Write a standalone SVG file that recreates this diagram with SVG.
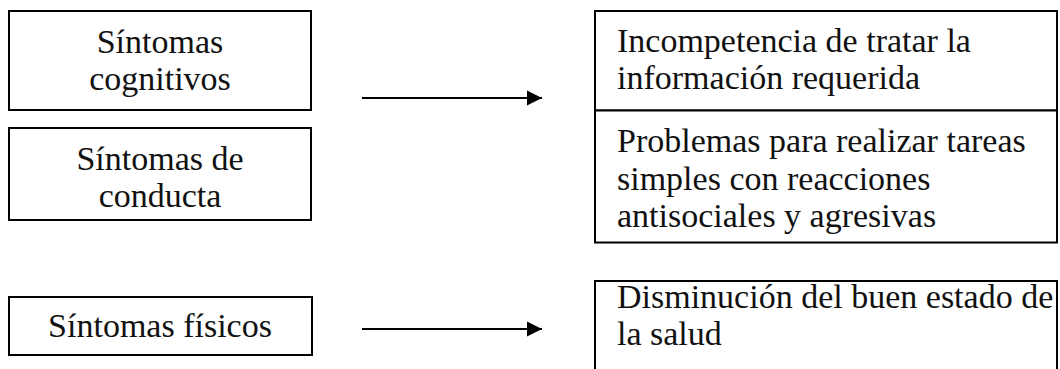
<svg xmlns="http://www.w3.org/2000/svg" width="1060" height="369" viewBox="0 0 1060 369">
<style>
.box{fill:#fff;stroke:#000;stroke-width:2}
.t{font-family:"Liberation Serif","Times New Roman",serif;font-size:34px;fill:#111}
.m{text-anchor:middle}
.c{stroke:#000;stroke-width:2;fill:none}
</style>
<defs>
<marker id="ah" markerWidth="16" markerHeight="16" refX="15" refY="7.5" orient="auto" markerUnits="userSpaceOnUse" viewBox="0 0 16 15">
<path d="M0,0 L15,7.5 L0,15 z" fill="#000"/>
</marker>
</defs>
<g id="n1"><rect class="box" x="9" y="11" width="302" height="99"/>
<text class="t m" x="160" y="53">Síntomas</text><text class="t m" x="160" y="90">cognitivos</text></g>
<g id="n2"><rect class="box" x="9" y="128" width="302" height="92"/>
<text class="t m" x="160" y="170">Síntomas de</text><text class="t m" x="160" y="207">conducta</text></g>
<g id="n3"><rect class="box" x="9" y="297" width="303" height="58"/>
<text class="t m" x="160" y="337">Síntomas físicos</text></g>
<g id="n4"><rect class="box" x="595" y="11" width="462" height="99.5"/>
<text class="t" x="617" y="52">Incompetencia de tratar la</text><text class="t" x="617" y="89">información requerida</text></g>
<g id="n5"><rect class="box" x="595" y="110.5" width="462" height="132"/>
<text class="t" x="617" y="152">Problemas para realizar tareas</text><text class="t" x="617" y="190">simples con reacciones</text><text class="t" x="617" y="227">antisociales y agresivas</text></g>
<g id="n6"><rect class="box" x="595" y="281" width="462" height="100"/>
<text class="t" x="617" y="308">Disminución del buen estado de</text><text class="t" x="617" y="345">la salud</text></g>
<g id="connectors">
<line class="c" x1="362" y1="98" x2="542" y2="98" marker-end="url(#ah)"/>
<line class="c" x1="362" y1="329" x2="542" y2="329" marker-end="url(#ah)"/>
</g>
</svg>
